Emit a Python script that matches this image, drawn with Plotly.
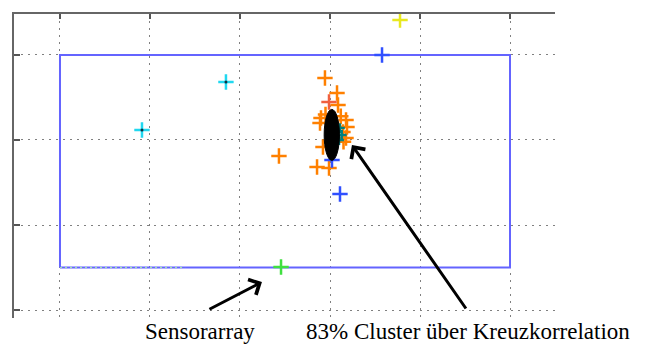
import plotly.graph_objects as go

# Sensor array rectangle
rect_x = [0, 5, 5, 0, 0]
rect_y = [0.5, 0.5, 3, 3, 0.5]
green_dash_x = [0, 1.39]
green_dash_y = [0.5, 0.5]

# Scatter estimates
orange_x = [2.944, 3.078, 3.089, 2.900, 2.889, 3.178, 3.189, 3.144, 3.178, 2.922, 2.433, 2.856, 2.989, 2.95, 3.12, 3.15]
orange_y = [2.729, 2.553, 2.412, 2.259, 2.200, 2.235, 2.153, 2.094, 2.024, 1.918, 1.812, 1.682, 1.671, 2.30, 2.28, 1.98]
red_x = [2.989]
red_y = [2.447]
blue_x = [3.022, 3.111, 3.578]
blue_y = [1.765, 1.365, 3.0]
cyan_x = [1.844, 0.911]
cyan_y = [2.682, 2.118]
teal_x = [3.11, 3.13, 3.10]
teal_y = [2.14, 2.06, 2.00]
yellow_x = [3.778]
yellow_y = [3.412]
green_x = [2.456]
green_y = [0.506]

# Dense cluster (ellipse) center and half-extent
cluster_cx, cluster_cy = 3.02, 2.06
cluster_rx, cluster_ry = 0.085, 0.30

# Arrows: tail -> head
arrow_tail_x = [1.644, 4.522]
arrow_tail_y = [0.0, 0.0]
arrow_head_x = [2.244, 3.244]
arrow_head_y = [0.329, 1.941]

labels = ["Sensorarray", "83% Cluster über Kreuzkorrelation"]
label_x = [1.556, 4.533]

fig = go.Figure()

fig.add_trace(go.Scatter(x=rect_x, y=rect_y, mode="lines",
                         line=dict(color="#6464ff", width=2), hoverinfo="skip"))
fig.add_trace(go.Scatter(x=green_dash_x, y=green_dash_y, mode="lines",
                         line=dict(color="#a0e8a0", width=1, dash="2px,3px"), hoverinfo="skip"))

def crosses(x, y, color, size=11, w=2.5):
    fig.add_trace(go.Scatter(x=x, y=y, mode="markers",
                             marker=dict(symbol="cross-thin", size=size,
                                         line=dict(color=color, width=w))))

crosses(orange_x, orange_y, "#ff8000")
crosses(red_x, red_y, "#f06040")
crosses(blue_x, blue_y, "#3050ff")
crosses(cyan_x, cyan_y, "#20d8f0")
fig.add_trace(go.Scatter(x=cyan_x, y=cyan_y, mode="markers",
                         marker=dict(symbol="circle", size=3, color="#103040")))
crosses(teal_x, teal_y, "#008080", size=7)
crosses(yellow_x, yellow_y, "#e8e820")
crosses(green_x, green_y, "#40e040")

fig.add_shape(type="circle", xref="x", yref="y",
              x0=cluster_cx - cluster_rx, x1=cluster_cx + cluster_rx,
              y0=cluster_cy - cluster_ry, y1=cluster_cy + cluster_ry,
              fillcolor="black", line=dict(color="black", width=1), layer="above")

for tx, ty, hx, hy in zip(arrow_tail_x, arrow_tail_y, arrow_head_x, arrow_head_y):
    fig.add_annotation(x=hx, y=hy, ax=tx, ay=ty, xref="x", yref="y",
                       axref="x", ayref="y", text="", showarrow=True,
                       arrowhead=4, arrowsize=1.1, arrowwidth=3,
                       arrowcolor="black", standoff=0)

for t, x in zip(labels, label_x):
    fig.add_annotation(x=x, y=-0.045, xref="x", yref="paper", text=t, showarrow=False,
                       font=dict(family="Liberation Serif", size=23, color="black"),
                       xanchor="center", yanchor="middle")

fig.update_layout(
    width=645, height=345,
    margin=dict(l=14, r=90, t=14, b=27, autoexpand=False),
    paper_bgcolor="white", plot_bgcolor="white",
    showlegend=False,
    xaxis=dict(range=[-0.511, 5.5], side="top", showline=True, linecolor="#666",
               linewidth=2, ticks="inside", ticklen=5, tickcolor="#555",
               tickwidth=2, tickvals=[0, 1, 2, 3, 4, 5], showticklabels=False,
               showgrid=True, gridcolor="#808080", griddash="2px,5px", gridwidth=1.3,
               zeroline=False, fixedrange=True),
    yaxis=dict(range=[-0.094, 3.482], showline=True, linecolor="#666",
               linewidth=2, ticks="inside", ticklen=6, tickcolor="#555",
               tickwidth=2, tickvals=[0, 1, 2, 3], showticklabels=False,
               showgrid=True, gridcolor="#808080", griddash="2px,5px", gridwidth=1.3,
               zeroline=False, fixedrange=True),
)

fig.write_html("out.html", config={"displayModeBar": False},
               post_script="document.body.style.margin='0';document.body.style.overflow='hidden';")
